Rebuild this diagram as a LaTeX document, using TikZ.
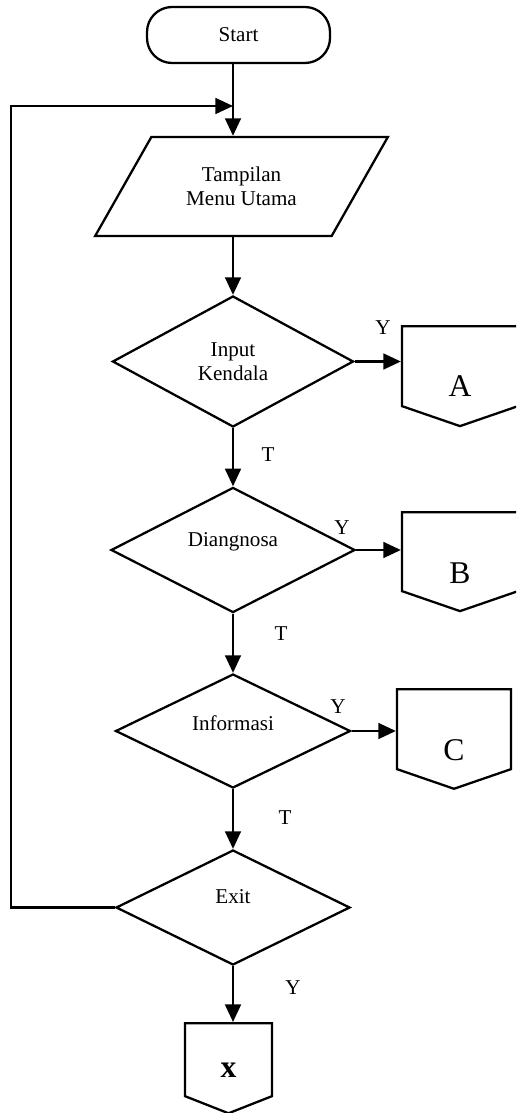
\documentclass[tikz,border=0pt]{standalone}
\usepackage{fontspec}
\setmainfont{Liberation Serif}
\usepackage{tikz}
\usetikzlibrary{shapes.geometric, shapes.symbols, arrows.meta, positioning, calc}
\newcommand{\flowfont}{\fontsize{12}{13.7}\selectfont}
\newcommand{\connfont}{\fontsize{18}{20}\selectfont}

\begin{document}
\begin{tikzpicture}[
    line width=1.3pt,
    term/.style={rectangle, draw, rounded corners=0.5cm, minimum width=3.66cm, minimum height=1.12cm, font=\flowfont},
    io/.style={trapezium, draw, trapezium left angle=53, trapezium right angle=127, trapezium stretches=true, minimum width=5.86cm, minimum height=1.98cm, align=center, font=\flowfont},
    dec/.style={diamond, draw, inner sep=0pt, align=center, font=\flowfont},
    conn/.style={signal, draw, signal to=south, signal pointer angle=142, inner sep=0pt, anchor=north},
    lbl/.style={font=\flowfont},
    arrow/.style={-{Triangle[length=10pt, width=9pt]}}
]
    \clip (0,0) rectangle (10.32,-22.26);

    % main column
    \node[term] (start) at (4.77,-0.70) {Start};
    \node[io] (menu) at (4.83,-3.73) {Tampilan\\Menu Utama};
    \node[dec, minimum width=4.82cm, minimum height=2.62cm] (inp) at (4.66,-7.23) {Input\\Kendala};
    \node[dec, minimum width=4.88cm, minimum height=2.4cm, text depth=0.42cm] (diag) at (4.66,-11.0) {Diangnosa};
    \node[dec, minimum width=4.7cm, minimum height=2.28cm, text depth=0.32cm] (info) at (4.66,-14.62) {Informasi};
    \node[dec, minimum width=4.68cm, minimum height=2.3cm, text depth=0.44cm] (exit) at (4.66,-18.15) {Exit};

    % off-page connectors
    \node[conn, minimum width=2.32cm, minimum height=1.6cm,
        label={[font=\connfont, anchor=center, yshift=-1.22cm]north:A}] (ca) at (9.2,-6.5) {};
    \node[conn, minimum width=2.32cm, minimum height=1.58cm,
        label={[font=\connfont, anchor=center, yshift=-1.24cm]north:B}] (cb) at (9.2,-10.22) {};
    \node[conn, minimum width=2.28cm, minimum height=1.6cm,
        label={[font=\connfont, anchor=center, yshift=-1.24cm]north:C}] (cc) at (9.08,-13.76) {};
    \node[conn, signal pointer angle=137, minimum width=1.74cm, minimum height=1.46cm,
        label={[font=\connfont\bfseries, anchor=center, yshift=-0.96cm]north:x}] (cx) at (4.57,-20.44) {};

    % branch labels
    \node[lbl] (y1) at (7.66,-6.56) {Y};
    \node[lbl] (y2) at (6.84,-10.56) {Y};
    \node[lbl] (y3) at (6.76,-14.14) {Y};
    \node[lbl] (y4) at (5.86,-19.76) {Y};
    \node[lbl] (t1) at (5.36,-9.10) {T};
    \node[lbl] (t2) at (5.62,-12.68) {T};
    \node[lbl] (t3) at (5.70,-16.36) {T};

    \draw[arrow] (start.south -| inp.north) -- (menu.north -| inp.north);
    \draw[arrow] (menu.south -| inp.north) -- (inp.north);
    \draw[arrow] (inp.south) -- (diag.north);
    \draw[arrow] (diag.south) -- (info.north);
    \draw[arrow] (info.south) -- (exit.north);
    \draw[arrow] (exit.south) -- (exit.south |- cx.north);

    \draw[arrow] (inp.east) -- (inp.east -| ca.west);
    \draw[arrow] (diag.east) -- (diag.east -| cb.west);
    \draw[arrow] (info.east) -- (info.east -| cc.west);

    % loop back to menu
    \coordinate (back) at (4.66,-2.12);
    \draw[arrow] (exit.west) -| (0.22,-2.12) -- (back);
\end{tikzpicture}
\end{document}
